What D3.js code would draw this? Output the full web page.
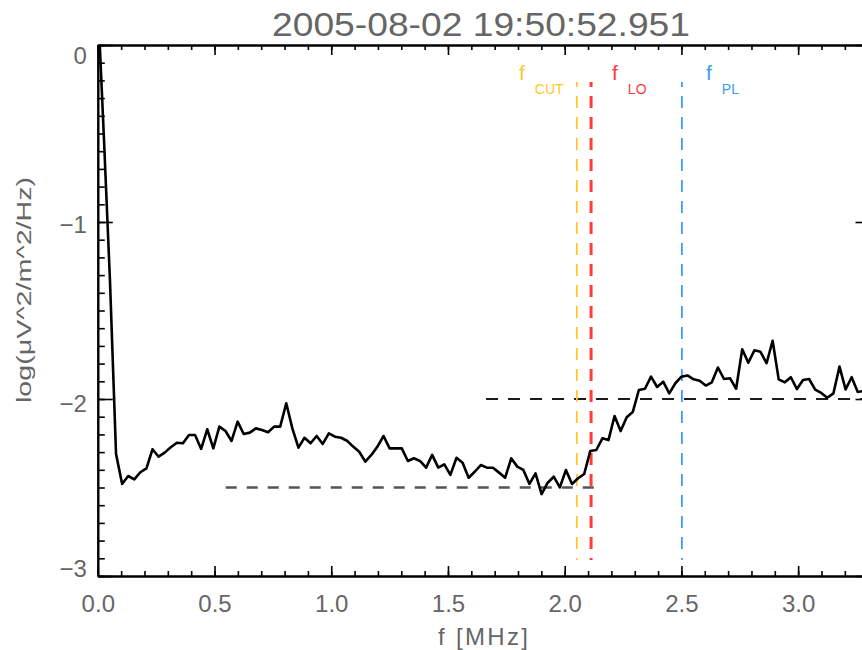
<!DOCTYPE html>
<html>
<head>
<meta charset="utf-8">
<script src="https://cdn.jsdelivr.net/npm/d3@7"></script>
<style>
  html, body { margin: 0; padding: 0; background: #fff; }
  svg { display: block; }
  text { font-family: "Liberation Sans", Arial, sans-serif; }
</style>
</head>
<body>
<svg id="chart" width="862" height="650"></svg>
<script>
// Spectrum: log10 power spectral density per frequency bin (bin k sits at k * FREQ_STEP MHz)
const FREQ_STEP = 0.026042;
const logPower = [
   0.25, -0.52, -1.33, -2.31, -2.480, -2.435, -2.454, -2.414, -2.392, -2.284,
  -2.326, -2.303, -2.273, -2.247, -2.250, -2.203, -2.203, -2.282, -2.171, -2.279,
  -2.156, -2.181, -2.237, -2.128, -2.198, -2.190, -2.166, -2.175, -2.188, -2.156,
  -2.156, -2.024, -2.166, -2.275, -2.219, -2.250, -2.209, -2.254, -2.194, -2.213,
  -2.219, -2.236, -2.269, -2.298, -2.354, -2.316, -2.269, -2.209, -2.279, -2.279,
  -2.279, -2.350, -2.335, -2.350, -2.388, -2.316, -2.388, -2.369, -2.429, -2.332,
  -2.360, -2.445, -2.411, -2.373, -2.388, -2.388, -2.416, -2.445, -2.335, -2.382,
  -2.401, -2.480, -2.420, -2.537, -2.473, -2.439, -2.499, -2.401, -2.480, -2.448,
  -2.424, -2.294, -2.288, -2.222, -2.232, -2.096, -2.181, -2.103, -2.073, -1.949,
  -1.942, -1.874, -1.932, -1.902, -1.968, -1.911, -1.874, -1.867, -1.889, -1.897,
  -1.924, -1.906, -1.822, -1.887, -1.883, -1.942, -1.719, -1.795, -1.725, -1.733,
  -1.798, -1.671, -1.889, -1.906, -1.877, -1.944, -1.893, -1.887, -1.947, -1.966,
  -1.993, -1.968, -1.817, -1.946, -1.877, -1.960, -1.955
];

// Characteristic frequencies (MHz)
const markerNames = ["CUT", "LO", "PL"];
const markerFreqs = [2.052, 2.113, 2.502];

// Reference levels: [fStart, fEnd, level]
const lowLevel  = [0.548, 2.159, -2.5];
const highLevel = [1.663, 3.31, -2.0];

const xMajorTicks = [0.0, 0.5, 1.0, 1.5, 2.0, 2.5, 3.0];
const yMajorTicks = [0, -1, -2, -3];

const titleText = "2005-08-02 19:50:52.951";
const xLabelText = "f [MHz]";
const yLabelText = "log(\u03BCV^2/m^2/Hz)";

// ---- styling ----
const markerColors = ["#ffc82a", "#ff3b3b", "#3d9cf5"];
const markerWidths = [1.8, 3, 1.8];
const labelGray = "#666";
const thinFont = "Lato, 'Liberation Sans', Arial, sans-serif";

const X_MAX = 3.31;
const plotLeft = 97.8, pxPerMHz = 233.45;
const plotRight = plotLeft + X_MAX * pxPerMHz, plotTop = 45, plotBottom = 576;
const svg = d3.select("#chart");

const x = d3.scaleLinear().domain([0, X_MAX]).range([plotLeft, plotRight]);
const y = d3.scaleLinear().domain([-3, 0]).range([plotBottom, plotTop]);

svg.append("defs").append("clipPath").attr("id", "plotClip")
  .append("rect").attr("x", plotLeft).attr("y", plotTop)
  .attr("width", plotRight - plotLeft).attr("height", plotBottom - plotTop);

const xMinor = d3.range(0, 34).map(i => +(i * 0.1).toFixed(1));
const yMinor = d3.range(0, 31).map(i => +(-i * 0.1).toFixed(1));

function styleAxis(g) {
  g.select(".domain").attr("stroke", "#000").attr("stroke-width", 2);
  g.selectAll(".tick line").attr("stroke", "#000").attr("stroke-width", 1.6);
  g.selectAll(".tick text").attr("fill", labelGray).attr("font-size", 24)
    .attr("font-family", thinFont).attr("font-weight", 300);
}

// minor ticks on all four sides
svg.append("g").attr("transform", `translate(0,${plotBottom})`)
  .call(d3.axisBottom(x).tickValues(xMinor).tickSize(-5).tickSizeOuter(0).tickFormat(""))
  .call(styleAxis);
svg.append("g").attr("transform", `translate(0,${plotTop})`)
  .call(d3.axisTop(x).tickValues(xMinor).tickSize(-5).tickSizeOuter(0).tickFormat(""))
  .call(styleAxis);
svg.append("g").attr("transform", `translate(${plotLeft},0)`)
  .call(d3.axisLeft(y).tickValues(yMinor).tickSize(-7).tickSizeOuter(0).tickFormat(""))
  .call(styleAxis);
svg.append("g").attr("transform", `translate(${plotRight},0)`)
  .call(d3.axisRight(y).tickValues(yMinor).tickSize(-7).tickSizeOuter(0).tickFormat(""))
  .call(styleAxis);

// major ticks + labels
svg.append("g").attr("transform", `translate(0,${plotBottom})`)
  .call(d3.axisBottom(x).tickValues(xMajorTicks).tickSize(-10).tickSizeOuter(0)
    .tickPadding(19).tickFormat(d3.format(".1f")))
  .call(styleAxis);
svg.append("g").attr("transform", `translate(0,${plotTop})`)
  .call(d3.axisTop(x).tickValues(xMajorTicks).tickSize(-10).tickSizeOuter(0).tickFormat(""))
  .call(styleAxis);
const yAxisG = svg.append("g").attr("transform", `translate(${plotLeft},0)`)
  .call(d3.axisLeft(y).tickValues(yMajorTicks).tickSize(-15).tickSizeOuter(0)
    .tickPadding(11).tickFormat(d3.format("d")))
  .call(styleAxis);
svg.append("g").attr("transform", `translate(${plotRight},0)`)
  .call(d3.axisRight(y).tickValues(yMajorTicks).tickSize(-15).tickSizeOuter(0).tickFormat(""))
  .call(styleAxis);

// end labels are pulled inside the axis range
const yLabelShift = { "0": 11, "-1": 3, "-2": 5, "-3": -7 };
yAxisG.selectAll(".tick text")
  .attr("y", d => yLabelShift[String(d)]);

// reference levels
const plot = svg.append("g").attr("clip-path", "url(#plotClip)");
plot.append("line")
  .attr("x1", x(lowLevel[0])).attr("x2", x(lowLevel[1]))
  .attr("y1", y(lowLevel[2])).attr("y2", y(lowLevel[2]))
  .attr("stroke", "#555").attr("stroke-width", 2.6).attr("stroke-dasharray", "11,10");
plot.append("line")
  .attr("x1", x(highLevel[0])).attr("x2", x(highLevel[1]))
  .attr("y1", y(highLevel[2])).attr("y2", y(highLevel[2]))
  .attr("stroke", "#1a1a1a").attr("stroke-width", 1.8).attr("stroke-dasharray", "12,10");

// characteristic frequency markers
markerFreqs.forEach((f, i) => {
  plot.append("line")
    .attr("x1", x(f)).attr("x2", x(f))
    .attr("y1", 82).attr("y2", 560)
    .attr("stroke", markerColors[i]).attr("stroke-width", markerWidths[i])
    .attr("stroke-dasharray", "12,9").attr("stroke-dashoffset", 7);
});

// spectrum curve
const line = d3.line()
  .x((d, i) => x(i * FREQ_STEP))
  .y(d => y(d));
plot.append("path").datum(logPower)
  .attr("d", line)
  .attr("fill", "none").attr("stroke", "#000")
  .attr("stroke-width", 2.6).attr("stroke-linejoin", "round");

// marker labels: f with subscript
const markerLabelX = [519, 612, 706];
markerNames.forEach((name, i) => {
  const t = svg.append("text").attr("x", markerLabelX[i]).attr("y", 80)
    .attr("fill", markerColors[i]).attr("font-size", 21)
    .attr("font-family", thinFont).attr("font-weight", 300);
  t.append("tspan").text("f");
  t.append("tspan").attr("dx", 10).attr("dy", 14).attr("font-size", 14).text(name);
});

// title
svg.append("text").attr("x", 481).attr("y", 36).attr("text-anchor", "middle")
  .attr("fill", labelGray).attr("font-size", 34)
  .attr("font-family", thinFont).attr("font-weight", 300)
  .attr("textLength", 418).attr("lengthAdjust", "spacingAndGlyphs")
  .text(titleText);

// axis titles
svg.append("text").attr("x", 483).attr("y", 645).attr("text-anchor", "middle")
  .attr("fill", labelGray).attr("font-size", 24)
  .attr("font-family", thinFont).attr("font-weight", 300)
  .attr("textLength", 90).attr("lengthAdjust", "spacing")
  .text(xLabelText);
svg.append("text")
  .attr("transform", "translate(31,290) rotate(-90)")
  .attr("text-anchor", "middle")
  .attr("fill", labelGray).attr("font-size", 21)
  .attr("font-family", thinFont).attr("font-weight", 300)
  .attr("textLength", 226).attr("lengthAdjust", "spacingAndGlyphs")
  .text(yLabelText);
</script>
</body>
</html>
